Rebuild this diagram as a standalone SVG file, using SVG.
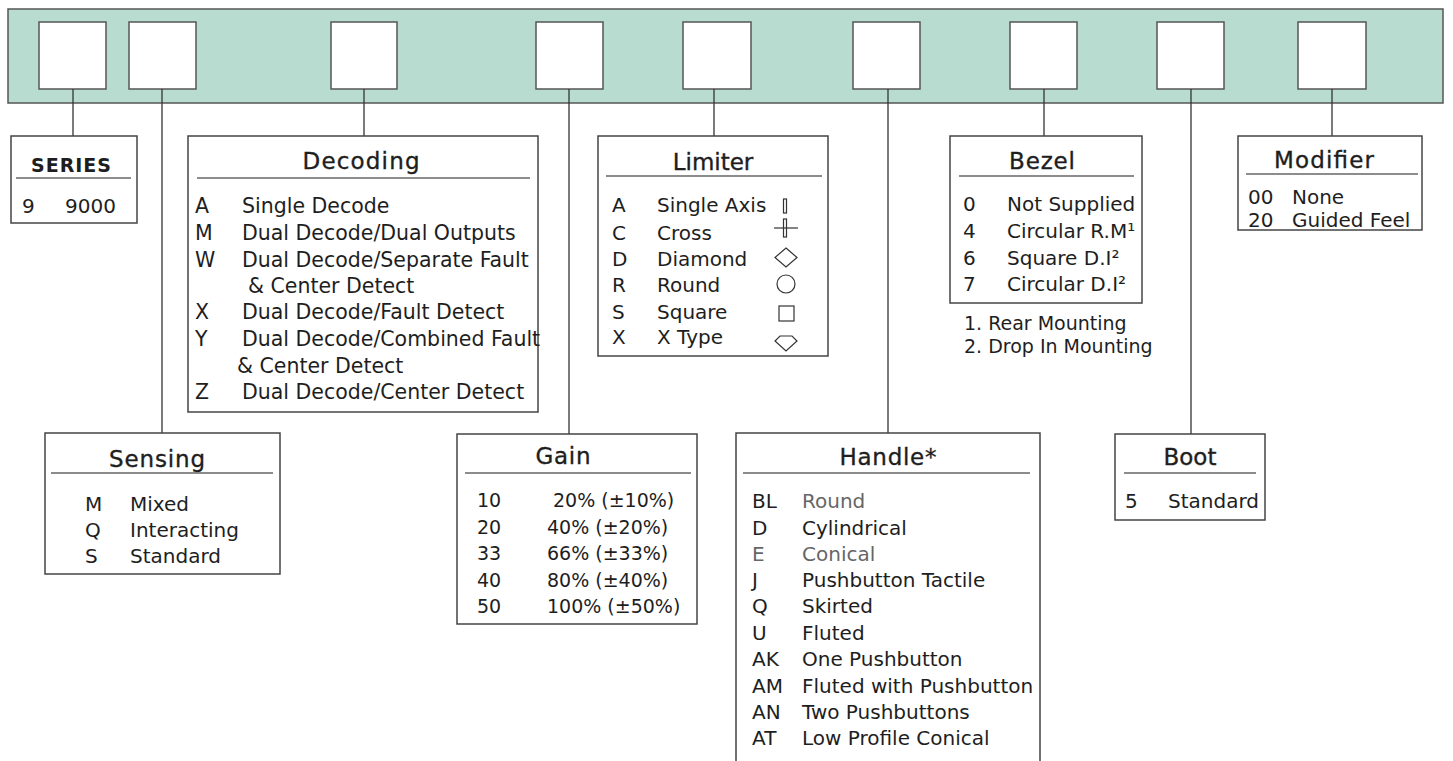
<svg xmlns="http://www.w3.org/2000/svg" width="1453" height="761" viewBox="0 0 1453 761">
<style>
text{font-family:"DejaVu Sans","Liberation Sans",sans-serif;fill:#1e1e1e;font-size:20px}
.t{font-size:23px;text-anchor:middle;stroke:#1e1e1e;stroke-width:0.35}
.t.s{font-size:19px;font-weight:bold;stroke-width:0}
.g{fill:#666}
.box{fill:#fff;stroke:#444;stroke-width:1.5}
.slot{fill:#fff;stroke:#555;stroke-width:1.5}
.ul{stroke:#666;stroke-width:1.5}
.c{stroke:#333;stroke-width:1.3;fill:none}
.sym{fill:none;stroke:#333;stroke-width:1.2}
.gn{font-size:19px}
.fn{font-size:19px}
.dc{font-size:20.5px}
</style>
<rect width="1453" height="761" fill="#fff"/>
<g id="bar">
<rect x="8" y="9" width="1435" height="94" fill="#b8ddd0" stroke="#555" stroke-width="1.5"/>
<rect class="slot" x="39" y="22" width="67" height="67"/>
<rect class="slot" x="129" y="22" width="67" height="67"/>
<rect class="slot" x="331" y="22" width="66" height="67"/>
<rect class="slot" x="536" y="22" width="67" height="67"/>
<rect class="slot" x="683" y="22" width="68" height="67"/>
<rect class="slot" x="853" y="22" width="67" height="67"/>
<rect class="slot" x="1010" y="22" width="67" height="67"/>
<rect class="slot" x="1157" y="22" width="67" height="67"/>
<rect class="slot" x="1298" y="22" width="68" height="67"/>
</g>
<g id="connectors">
<line class="c" x1="73" y1="89" x2="73" y2="136"/>
<line class="c" x1="162" y1="89" x2="162" y2="433"/>
<line class="c" x1="364" y1="89" x2="364" y2="136"/>
<line class="c" x1="569" y1="89" x2="569" y2="434"/>
<line class="c" x1="714" y1="89" x2="714" y2="136"/>
<line class="c" x1="888" y1="89" x2="888" y2="433"/>
<line class="c" x1="1044" y1="89" x2="1044" y2="136"/>
<line class="c" x1="1191" y1="89" x2="1191" y2="434"/>
<line class="c" x1="1332" y1="89" x2="1332" y2="136"/>
</g>
<g id="series">
<rect class="box" x="11" y="136" width="126" height="87"/>
<text class="t s" x="71" y="172" textLength="80" lengthAdjust="spacing">SERIES</text>
<line class="ul" x1="16" y1="178" x2="131" y2="178"/>
<text x="22" y="213">9</text><text x="65" y="213">9000</text>
</g>
<g id="decoding">
<rect class="box" x="188" y="136" width="350" height="276"/>
<text class="t" x="361" y="169" textLength="117" lengthAdjust="spacing">Decoding</text>
<line class="ul" x1="197" y1="178" x2="530" y2="178"/>
<text class="dc" x="195" y="213">A</text><text class="dc" x="242" y="213">Single Decode</text>
<text class="dc" x="195" y="240">M</text><text class="dc" x="242" y="240">Dual Decode/Dual Outputs</text>
<text class="dc" x="195" y="267">W</text><text class="dc" x="242" y="267">Dual Decode/Separate Fault</text>
<text class="dc" x="248" y="293">&amp; Center Detect</text>
<text class="dc" x="195" y="319">X</text><text class="dc" x="242" y="319">Dual Decode/Fault Detect</text>
<text class="dc" x="195" y="346">Y</text><text class="dc" x="242" y="346">Dual Decode/Combined Fault</text>
<text class="dc" x="237" y="373">&amp; Center Detect</text>
<text class="dc" x="195" y="399">Z</text><text class="dc" x="242" y="399">Dual Decode/Center Detect</text>
</g>
<g id="limiter">
<rect class="box" x="598" y="136" width="230" height="220"/>
<text class="t" x="713" y="170">Limiter</text>
<line class="ul" x1="606" y1="176" x2="822" y2="176"/>
<text x="612" y="212">A</text><text x="657" y="212">Single Axis</text>
<text x="612" y="240">C</text><text x="657" y="240">Cross</text>
<text x="612" y="266">D</text><text x="657" y="266">Diamond</text>
<text x="612" y="292">R</text><text x="657" y="292">Round</text>
<text x="612" y="319">S</text><text x="657" y="319">Square</text>
<text x="612" y="344">X</text><text x="657" y="344">X Type</text>
<rect class="sym" x="783.5" y="199" width="3" height="14"/>
<line class="sym" x1="774" y1="228" x2="798" y2="228"/>
<rect class="sym" x="783.5" y="219" width="3" height="18"/>
<polygon class="sym" points="786,248 797,257.5 786,267 775,257.5"/>
<circle class="sym" cx="786" cy="284" r="9"/>
<rect class="sym" x="779" y="306" width="15" height="15"/>
<polygon class="sym" points="780,336 792,336 797,341 786,351 775,341"/>
</g>
<g id="bezel">
<rect class="box" x="950" y="136" width="192" height="167"/>
<text class="t" x="1042" y="169" textLength="66" lengthAdjust="spacing">Bezel</text>
<line class="ul" x1="959" y1="176" x2="1134" y2="176"/>
<text x="963" y="211">0</text><text x="1007" y="211">Not Supplied</text>
<text x="963" y="238">4</text><text x="1007" y="238">Circular R.M¹</text>
<text x="963" y="265">6</text><text x="1007" y="265">Square D.I²</text>
<text x="963" y="291">7</text><text x="1007" y="291">Circular D.I²</text>
<text class="fn" x="964" y="330">1. Rear Mounting</text>
<text class="fn" x="964" y="353">2. Drop In Mounting</text>
</g>
<g id="modifier">
<rect class="box" x="1238" y="136" width="184" height="94"/>
<text class="t" x="1324" y="168" textLength="100" lengthAdjust="spacing">Modifier</text>
<line class="ul" x1="1246" y1="174" x2="1418" y2="174"/>
<text x="1248" y="204">00</text><text x="1292" y="204">None</text>
<text x="1248" y="227">20</text><text x="1292" y="227">Guided Feel</text>
</g>
<g id="sensing">
<rect class="box" x="45" y="433" width="235" height="141"/>
<text class="t" x="157" y="467" textLength="96" lengthAdjust="spacing">Sensing</text>
<line class="ul" x1="51" y1="473" x2="273" y2="473"/>
<text x="85" y="511">M</text><text x="130" y="511">Mixed</text>
<text x="85" y="537">Q</text><text x="130" y="537">Interacting</text>
<text x="85" y="563">S</text><text x="130" y="563">Standard</text>
</g>
<g id="gain">
<rect class="box" x="457" y="434" width="240" height="190"/>
<text class="t" x="563" y="464" textLength="55" lengthAdjust="spacing">Gain</text>
<line class="ul" x1="465" y1="473" x2="691" y2="473"/>
<text class="gn" x="477" y="507">10</text><text class="gn" x="553" y="507">20% (±10%)</text>
<text class="gn" x="477" y="534">20</text><text class="gn" x="547" y="534">40% (±20%)</text>
<text class="gn" x="477" y="560">33</text><text class="gn" x="547" y="560">66% (±33%)</text>
<text class="gn" x="477" y="587">40</text><text class="gn" x="547" y="587">80% (±40%)</text>
<text class="gn" x="477" y="613">50</text><text class="gn" x="547" y="613">100% (±50%)</text>
</g>
<g id="handle">
<path class="box" d="M736,770 V433 H1040 V770"/>
<text class="t" x="888" y="465" textLength="97" lengthAdjust="spacing">Handle*</text>
<line class="ul" x1="743" y1="473" x2="1030" y2="473"/>
<text x="752" y="508">BL</text><text class="g" x="802" y="508">Round</text>
<text x="752" y="535">D</text><text x="802" y="535">Cylindrical</text>
<text class="g" x="752" y="561">E</text><text class="g" x="802" y="561">Conical</text>
<text x="752" y="587">J</text><text x="802" y="587">Pushbutton Tactile</text>
<text x="752" y="613">Q</text><text x="802" y="613">Skirted</text>
<text x="752" y="640">U</text><text x="802" y="640">Fluted</text>
<text x="752" y="666">AK</text><text x="802" y="666">One Pushbutton</text>
<text x="752" y="693">AM</text><text x="802" y="693">Fluted with Pushbutton</text>
<text x="752" y="719">AN</text><text x="802" y="719">Two Pushbuttons</text>
<text x="752" y="745">AT</text><text x="802" y="745">Low Profile Conical</text>
</g>
<g id="boot">
<rect class="box" x="1115" y="434" width="150" height="86"/>
<text class="t" x="1190" y="465">Boot</text>
<line class="ul" x1="1124" y1="473" x2="1256" y2="473"/>
<text x="1125" y="508">5</text><text x="1168" y="508">Standard</text>
</g>
</svg>
